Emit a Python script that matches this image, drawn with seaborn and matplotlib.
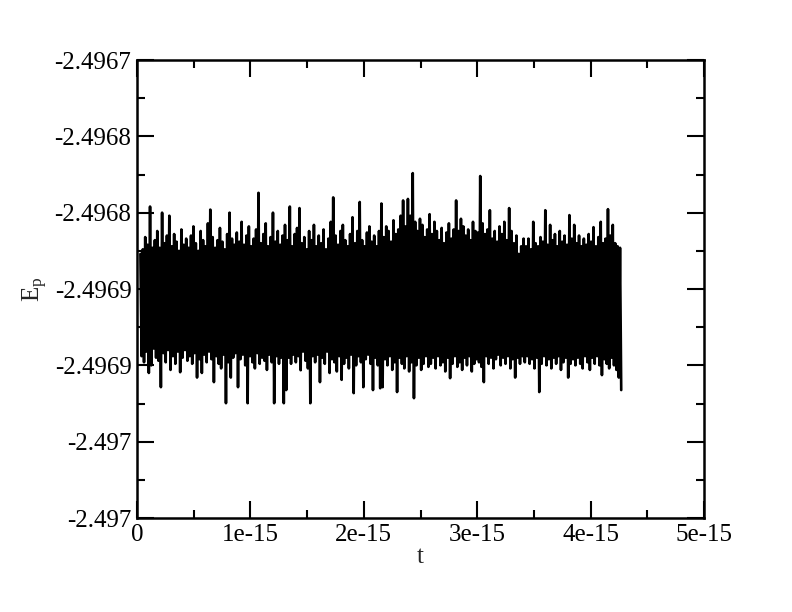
import matplotlib
matplotlib.use("Agg")
import matplotlib.pyplot as plt
import numpy as np
import pandas as pd
import seaborn as sns

# potential energy E_p, read off the picture as peak / trough pairs
# deviations from E0, in units of 1e-7
E0 = -2.496856
t_first = 0.03e-15
t_last = 4.27e-15

ep_hi = [
    290, 320, 400, 350, 600, 330, 380, 440, 330, 560, 360, 410, 540, 340, 420, 370, 310, 450, 350, 390,
    330, 410, 470, 360, 310, 440, 380, 340, 490, 580, 400, 330, 380, 460, 370, 320, 420, 560, 390, 350,
    430, 370, 500, 350, 410, 470, 340, 390, 450, 690, 360, 420, 490, 340, 400, 560, 370, 440, 350, 410,
    480, 380, 600, 340, 420, 460, 590, 360, 400, 320, 440, 380, 480, 340, 410, 360, 450, 320, 390, 500,
    660, 410, 350, 440, 480, 380, 340, 420, 530, 360, 440, 630, 380, 340, 430, 470, 370, 410, 340, 440,
    620, 400, 470, 440, 370, 510, 420, 450, 540, 640, 470, 650, 540, 819, 500, 440, 520, 480, 400, 450,
    550, 420, 500, 440, 380, 460, 360, 430, 490, 390, 450, 640, 440, 520, 470, 410, 450, 380, 500, 440,
    430, 800, 490, 420, 450, 576, 390, 440, 370, 470, 420, 500, 380, 590, 440, 360, 410, 290, 340, 390,
    340, 390, 320, 500, 360, 340, 400, 370, 576, 350, 480, 380, 420, 340, 440, 370, 410, 350, 544, 390,
    480, 360, 410, 340, 390, 350, 420, 370, 465, 340, 400, 500, 360, 390, 583, 410, 480, 360, 340, 330,
]

ep_lo = [
    -380, -420, -350, -490, -440, -330, -390, -410, -583, -360, -420, -340, -470, -380, -430, -350, -485, -390, -340, -410,
    -380, -430, -360, -520, -400, -490, -370, -420, -350, -400, -550, -380, -430, -460, -370, -688, -420, -520, -390, -360,
    -583, -400, -370, -440, -688, -380, -420, -460, -360, -430, -390, -410, -470, -370, -420, -688, -380, -430, -390, -688,
    -602, -390, -430, -370, -420, -380, -472, -350, -410, -460, -688, -380, -420, -370, -550, -390, -430, -350, -490, -400,
    -420, -480, -380, -535, -430, -390, -460, -370, -622, -440, -380, -420, -583, -400, -370, -430, -602, -390, -440, -590,
    -583, -400, -440, -380, -470, -420, -615, -390, -430, -460, -380, -480, -420, -655, -440, -390, -470, -430, -380, -450,
    -430, -390, -460, -380, -440, -420, -480, -390, -524, -430, -380, -450, -420, -470, -390, -440, -380, -480, -430, -400,
    -420, -450, -550, -380, -430, -390, -460, -400, -370, -440, -390, -430, -380, -460, -400, -520, -390, -430, -380, -420,
    -380, -430, -400, -460, -390, -615, -430, -380, -440, -400, -460, -390, -430, -380, -470, -420, -390, -520, -430, -400,
    -440, -390, -430, -460, -380, -420, -470, -390, -430, -380, -440, -504, -400, -430, -460, -390, -440, -470, -520, -602,
]

xtick_vals = [0, 1e-15, 2e-15, 3e-15, 4e-15, 5e-15]
xtick_labels = ["0", "1e-15", "2e-15", "3e-15", "4e-15", "5e-15"]
ytick_vals = [-2.4967, -2.49675, -2.4968, -2.49685, -2.4969, -2.49695, -2.497]
ytick_labels = ["-2.4967", "-2.4968", "-2.4968", "-2.4969", "-2.4969", "-2.497", "-2.497"]

# interleave peaks and troughs into one time series
dev = np.column_stack([ep_hi, ep_lo]).ravel()
t = np.linspace(t_first, t_last, len(dev))
df = pd.DataFrame({"t": t, "Ep": E0 + dev * 1e-7})

sns.set_style("ticks")
plt.rcParams["font.family"] = ["Liberation Serif", "DejaVu Serif"]
plt.rcParams["mathtext.fontset"] = "stix"

fig = plt.figure(figsize=(7.92, 6.12), dpi=100)
ax = fig.add_axes([137 / 792, 1 - 518 / 612, (704 - 137) / 792, (518 - 60) / 612])

sns.lineplot(data=df, x="t", y="Ep", ax=ax, color="black", linewidth=1.9,
             estimator=None, sort=False)

ax.set_xlim(0, 5e-15)
ax.set_ylim(-2.497, -2.4967)
ax.set_xticks(xtick_vals)
ax.set_xticklabels(xtick_labels)
ax.set_yticks(ytick_vals)
ax.set_yticklabels(ytick_labels)
ax.set_xticks(np.arange(0.5e-15, 5e-15, 1e-15), minor=True)
ax.set_yticks([-2.496725, -2.496775, -2.496825, -2.496875, -2.496925, -2.496975], minor=True)

ax.tick_params(which="both", direction="in", top=True, right=True,
               labelsize=18, width=1.5, color="black", labelcolor="black")
ax.tick_params(which="major", length=12, pad=4)
ax.tick_params(which="minor", length=6)
for s in ax.spines.values():
    s.set_linewidth(1.8)
    s.set_color("black")

ax.set_xlabel("t", fontsize=18, labelpad=0)
ax.set_ylabel("E$_\\mathregular{p}$", fontsize=18, labelpad=4)

fig.savefig("out.png", dpi=100)
